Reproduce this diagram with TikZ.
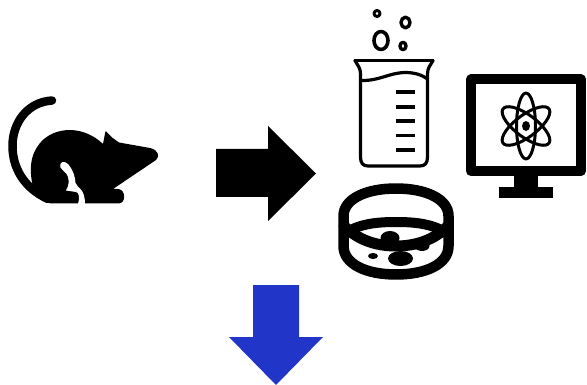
\documentclass[tikz,border=0pt]{standalone}
\begin{document}
\begin{tikzpicture}[x=1pt,y=-1pt,
  line/.style={draw=black,line width=#1,line cap=round,line join=round,fill=none}]
\useasboundingbox (0,0) rectangle (587,385);
% mouse
\draw[line=8.5pt] (52,100.5) .. controls (28,102) and (12.5,122) .. (12.5,146) .. controls (12.5,168) and (24,188) .. (48,199);
\fill[black,rounded corners=0.6pt] (33,187) .. controls (28,165) and (32,150) .. (44,139) .. controls (60,126) and (85,127) .. (103,144)
  -- (105.5,131) -- (112,137.5) -- (119,142.5) -- (150,148) .. controls (158,150) and (160,156) .. (156,160)
  -- (113,189) -- (118,189) .. controls (126,190) and (126,203.5) .. (118,203.5) -- (50,203.5) -- (40,195) -- cycle;
\fill[white] (60.5,167.5) .. controls (59,162) and (64,160) .. (68,164) .. controls (73,170) and (75,176) .. (75.5,183) .. controls (77,188) and (85,188) .. (85,204) -- (78,204) .. controls (80,198) and (79,192) .. (76,192) -- (66,190.5) .. controls (69,186) and (69,181) .. (68,177) .. controls (67,173) and (63,171) .. (60.5,167.5) -- cycle;
% arrow
\fill[black] (216,149) -- (268,149) -- (268,126) -- (316,173.5) -- (268,221) -- (268,197) -- (216,197) -- cycle;
% beaker
\draw[line=3pt] (377,13.5) circle[radius=3];
\draw[line=3.4pt] (405.5,22.5) circle[x radius=4.5,y radius=5.3];
\draw[line=3.6pt] (381,40.5) circle[x radius=7,y radius=9];
\draw[line=3.4pt] (403,46) circle[x radius=3,y radius=3.7];
\draw[line=3.4pt] (355,60.5) -- (433,60.5);
\draw[line=3.2pt] (355,60.5) .. controls (358,66) and (360.5,68) .. (360.5,74) -- (360.5,157) .. controls (360.5,163) and (363,166) .. (368,166) -- (420,166) .. controls (425,166) and (427.5,163) .. (427.5,157) -- (427.5,74) .. controls (427.5,68) and (430,66) .. (433,60.5);
\draw[line=3.2pt] (360.5,80.5) .. controls (380,81) and (388,73) .. (405,72.5) .. controls (415,72.5) and (422,75) .. (427.5,79);
\foreach \yy in {92,107,121,135.5,150}{\draw[draw=black,line width=3.6pt] (396,\yy) -- (415,\yy);}
% dish
\draw[line=10.5pt] (396,188.5) .. controls (366,188.5) and (343.5,199) .. (343.5,216) -- (343.5,246) .. controls (343.5,264) and (366,274.5) .. (396,274.5) .. controls (426,274.5) and (448.5,264) .. (448.5,246) -- (448.5,216) .. controls (448.5,199) and (426,188.5) .. (396,188.5) -- cycle;
\draw[line=11pt] (344,226) .. controls (358,240) and (376,246) .. (396,246) .. controls (416,246) and (434,240) .. (448,226);
\draw[line=10pt] (344,234) .. controls (358,224) and (376,222) .. (396,222) .. controls (416,222) and (434,224) .. (448,234);
\fill[black] (390,238) ellipse[x radius=9.5,y radius=7];
\fill[black] (422,246) ellipse[x radius=7.5,y radius=5];
\fill[black] (400.5,258.5) ellipse[x radius=12.5,y radius=7.5];
\fill[black] (373,256) ellipse[x radius=5,y radius=3];
% monitor
\draw[line=10pt] (471,79.5) rectangle (581,171);
\fill[black] (514,172) rectangle (538,189);
\fill[black] (498.5,187.5) rectangle (553,198);
\begin{scope}[shift={(526,126)},yscale=1.22]
\draw[line=3pt] (0,0) circle[x radius=9.5,y radius=27];
\draw[line=3pt,rotate=60] (0,0) circle[x radius=9.5,y radius=27];
\draw[line=3pt,rotate=-60] (0,0) circle[x radius=9.5,y radius=27];
\end{scope}
\fill[black] (526,126) ellipse[x radius=4,y radius=5];
% down arrow
\fill[fill={rgb,255:red,33;green,53;blue,200}] (253,285) -- (299,285) -- (299,337) -- (323,337) -- (276,385) -- (229,337) -- (253,337) -- cycle;
\end{tikzpicture}
\end{document}
